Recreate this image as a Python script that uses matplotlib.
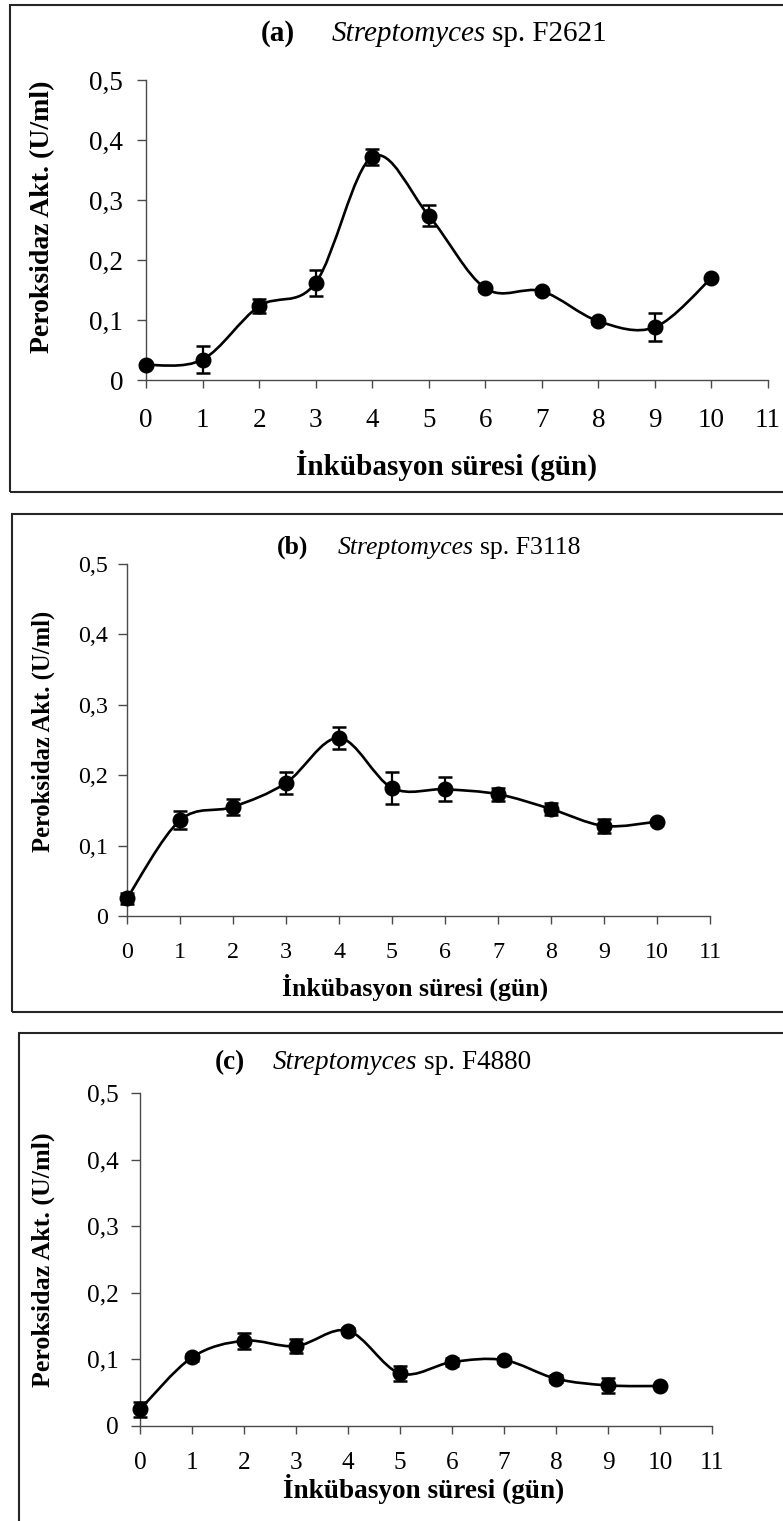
import numpy as np
import matplotlib
matplotlib.use("Agg")
import matplotlib.pyplot as plt
from matplotlib.path import Path
from matplotlib.patches import PathPatch, Rectangle

plt.rcParams['font.family'] = ['Liberation Serif', 'DejaVu Serif']

# ---------------- data ----------------
days = [0, 1, 2, 3, 4, 5, 6, 7, 8, 9, 10]
x_ticks = [0, 1, 2, 3, 4, 5, 6, 7, 8, 9, 10, 11]
y_ticks = [0, 0.1, 0.2, 0.3, 0.4, 0.5]
y_tick_labels = ["0", "0,1", "0,2", "0,3", "0,4", "0,5"]

a_vals = [0.025, 0.034, 0.123, 0.162, 0.372, 0.274, 0.153, 0.148, 0.098, 0.088, 0.170]
a_err = [0.003, 0.0225, 0.012, 0.022, 0.013, 0.017, 0.004, 0.004, 0.004, 0.023, 0.0]

b_vals = [0.025, 0.136, 0.155, 0.189, 0.253, 0.182, 0.180, 0.173, 0.152, 0.128, 0.134]
b_err = [0.008, 0.013, 0.011, 0.015, 0.016, 0.023, 0.017, 0.009, 0.009, 0.010, 0.0]

c_vals = [0.025, 0.103, 0.128, 0.120, 0.143, 0.079, 0.096, 0.099, 0.071, 0.061, 0.060]
c_err = [0.011, 0.005, 0.012, 0.010, 0.004, 0.011, 0.006, 0.004, 0.005, 0.011, 0.0]

panel_tags = ["(a)", "(b)", "(c)"]
panel_strains = ["F2621", "F3118", "F4880"]
genus = "Streptomyces"
ylabel = "Peroksidaz Akt. (U/ml)"
xlabel = "İnkübasyon süresi (gün)"

# ---------------- layout (pixels) ----------------
W, H = 783, 1521
fig = plt.figure(figsize=(W / 100, H / 100), dpi=100)


def fx(px):
    return px / W


def fy(py):
    return 1 - py / H


# axes: (x0 px, x11 px, y0.5 px, y0 px)
axes_px = [(146, 768, 80, 380), (127, 710, 564, 916), (140, 712, 1093, 1426)]
boxes_px = [(10, 5, 800, 492), (12, 514, 800, 1012), (19, 1033, 800, 1540)]
title_px = [(261, 41), (277, 554), (215, 1069)]
ylab_px = [(43, 217), (43, 731), (43, 1260)]
xlab_px = [(447, 465), (415, 987), (424, 1489)]
scale = [1.0, 0.885, 0.935]
title_gap = [26, 21, 20]
xtick_pad = [14, 13, 13]
ytick_pad = [10, 7, 9]

series = [(a_vals, a_err), (b_vals, b_err), (c_vals, c_err)]


def smooth_path(x, y):
    pts = np.column_stack([x, y]).astype(float)
    n = len(pts)
    verts = [pts[0]]
    codes = [Path.MOVETO]
    for i in range(n - 1):
        p0 = pts[max(i - 1, 0)]
        p1 = pts[i]
        p2 = pts[i + 1]
        p3 = pts[min(i + 2, n - 1)]
        c1 = p1 + (p2 - p0) / 6.0
        c2 = p2 - (p3 - p1) / 6.0
        verts += [c1, c2, p2]
        codes += [Path.CURVE4] * 3
    return Path(verts, codes)


spine_col = "#4a4a4a"

for k in range(3):
    s = scale[k]
    x0, x1, yt, yb = axes_px[k]
    ax = fig.add_axes([fx(x0), fy(yb), (x1 - x0) / W, (yb - yt) / H])
    vals, err = series[k]

    # smoothed line
    ax.add_patch(PathPatch(smooth_path(days, vals), fill=False, lw=1.9,
                           ec="black", zorder=2, clip_on=False))
    ax.errorbar(days, vals, yerr=err, fmt="none", ecolor="black",
                elinewidth=1.6, capsize=5, capthick=1.8, zorder=3, clip_on=False)
    ax.plot(days, vals, "o", color="black", ms=10.5, zorder=4, clip_on=False)

    ax.set_xlim(0, 11)
    ax.set_ylim(0, 0.5)
    ax.set_xticks(x_ticks)
    ax.set_xticklabels([str(t) for t in x_ticks], fontsize=19.5 * s)
    ax.set_yticks(y_ticks)
    ax.set_yticklabels(y_tick_labels, fontsize=19.5 * s)
    for sp in ["top", "right"]:
        ax.spines[sp].set_visible(False)
    for sp in ["left", "bottom"]:
        ax.spines[sp].set_color(spine_col)
        ax.spines[sp].set_linewidth(1.0)
    ax.tick_params(axis="x", direction="out", length=6, width=1,
                   color=spine_col, pad=xtick_pad[k])
    ax.tick_params(axis="y", direction="out", length=6.5, width=1,
                   color=spine_col, pad=ytick_pad[k])

    # axis labels
    ax.set_ylabel(ylabel, fontsize=20 * s, fontweight="bold", va="center", ha="center")
    ax.yaxis.set_label_coords((ylab_px[k][0] - x0) / (x1 - x0),
                              (yb - ylab_px[k][1]) / (yb - yt))
    ax.set_xlabel(xlabel, fontsize=21 * s, fontweight="bold", va="center", ha="center")
    ax.xaxis.set_label_coords((xlab_px[k][0] - x0) / (x1 - x0),
                              (yb - xlab_px[k][1]) / (yb - yt))

    # title in three styles
    tx, ty = title_px[k]
    t1 = fig.text(fx(tx), fy(ty), panel_tags[k], fontsize=21 * s, fontweight="bold",
                  ha="left", va="baseline")
    t2 = ax.annotate(genus, xy=(1, fy(ty)), xycoords=(t1, "figure fraction"),
                     xytext=(title_gap[k], 0), textcoords="offset points",
                     fontsize=21 * s, style="italic", ha="left", va="baseline",
                     annotation_clip=False)
    ax.annotate("sp. " + panel_strains[k], xy=(1, fy(ty)),
                xycoords=(t2, "figure fraction"), xytext=(5 * s, 0),
                textcoords="offset points", fontsize=21 * s, ha="left",
                va="baseline", annotation_clip=False)

    # panel border
    bx0, by0, bx1, by1 = boxes_px[k]
    fig.add_artist(Rectangle((fx(bx0), fy(by1)), (bx1 - bx0) / W, (by1 - by0) / H,
                             transform=fig.transFigure, fill=False,
                             ec="#262626", lw=1.5, clip_on=False))

fig.savefig("out.png", dpi=100)
